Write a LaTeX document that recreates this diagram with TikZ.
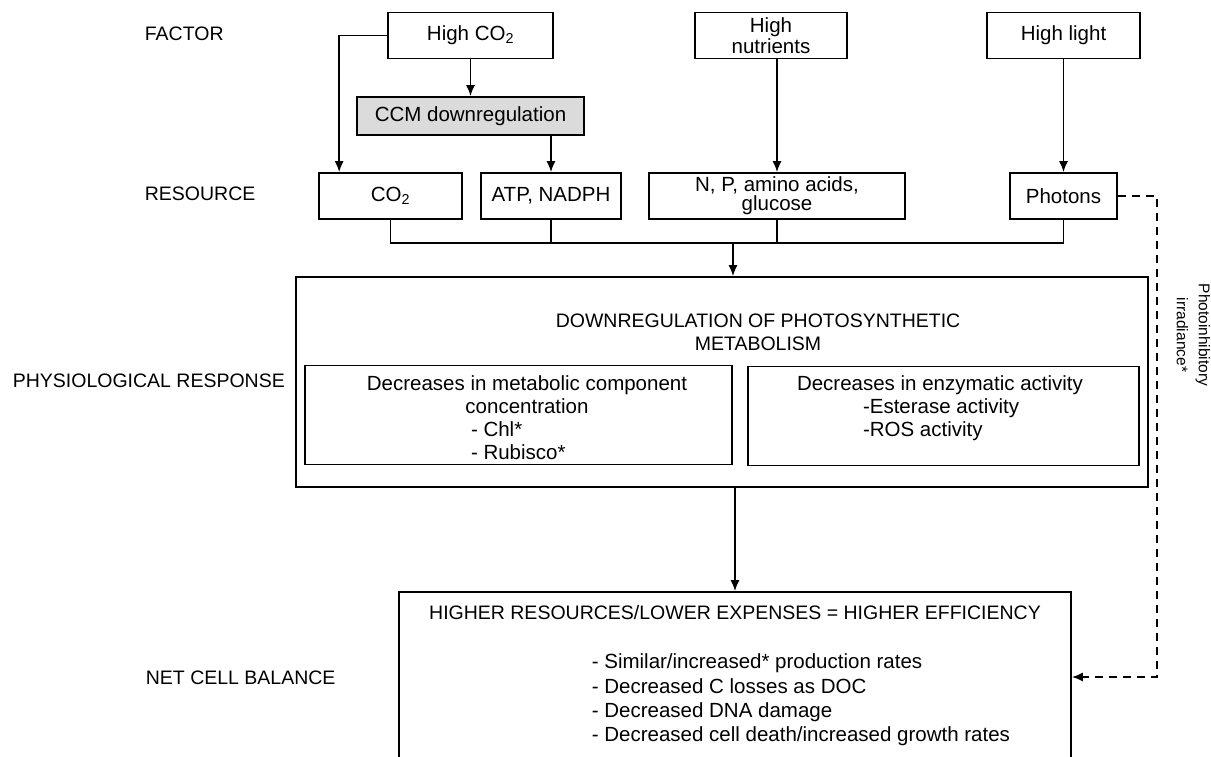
\documentclass[tikz,border=0pt]{standalone}
\usepackage{fontspec}
\setmainfont{Liberation Sans}
\usetikzlibrary{calc}
\usetikzlibrary{arrows.meta}

\begin{document}
\begin{tikzpicture}[x=1pt,y=-1pt,>={Latex[length=11pt,width=9pt]},line width=1.7pt,
  every node/.style={font=\fontsize{20.5}{23}\selectfont,inner sep=0pt},
  caps/.style={font=\fontsize{19.5}{23}\selectfont},
  box/.style={draw,minimum height=46pt,align=center},
  levellabel/.style={caps,anchor=base west},
  dashline/.style={dash pattern=on 8pt off 6pt}]
\useasboundingbox (0,0) rectangle (1211,756);

\node[name=lab_factor, levellabel] at (144,40) {FACTOR};
\node[name=lab_resource, levellabel] at (144,200) {RESOURCE};
\node[name=lab_physio, levellabel] at (12,387) {PHYSIOLOGICAL RESPONSE};
\node[name=lab_net, levellabel] at (145,684) {NET CELL BALANCE};

\node[name=high_co2, box, minimum width=165pt] at (470.5,35.5) {High CO\textsubscript{2}};
\node[name=high_nut, box, minimum width=152pt, font=\fontsize{20.5}{21}\selectfont] at (771,35.5) {High\\nutrients};
\node[name=high_light, box, minimum width=153pt] at (1063.5,35.5) {High light};
\node[name=ccm, box, minimum width=227pt, minimum height=38pt, fill=black!14] at (470.5,116) {CCM downregulation};

\node[name=co2, box, minimum width=143pt] at (390.5,196) {CO\textsubscript{2}};
\node[name=atp, box, minimum width=140pt] at (551,196) {ATP, NADPH};
\node[name=nut, box, minimum width=256pt, font=\fontsize{20.5}{19}\selectfont] at (777,196) {N, P, amino acids,\\glucose};
\node[name=photons, box, minimum width=107pt] at (1063.5,196) {Photons};

\node[name=main, draw, minimum width=852pt, minimum height=210pt] at (722,382) {};
\node[name=main_title, caps, anchor=north, align=center] at (758,313) {DOWNREGULATION OF PHOTOSYNTHETIC\\METABOLISM};
\node[name=comp, draw, minimum width=427pt, minimum height=99pt] at (518.5,415) {};
\node[name=comp_txt, anchor=north, align=center] at (527,375) {Decreases in metabolic component\\concentration\\\makebox[112pt][l]{- Chl*}\\\makebox[112pt][l]{- Rubisco*}};
\node[name=enz, draw, minimum width=391pt, minimum height=99pt] at (943.5,416) {};
\node[name=enz_txt, anchor=north, align=center] at (940,375) {Decreases in enzymatic activity\\\makebox[154pt][l]{-Esterase activity}\\\makebox[154pt][l]{-ROS activity}};

\node[name=balance, draw, minimum width=672pt, minimum height=180pt] at (735,682) {};
\node[name=balance_title, caps, anchor=base] at (735,619) {HIGHER RESOURCES/LOWER EXPENSES = HIGHER EFFICIENCY};
\node[name=balance_list, anchor=north west, align=left, font=\fontsize{20.5}{24.4}\selectfont] at (591,653) {- Similar/increased* production rates\\- Decreased C losses as DOC\\- Decreased DNA damage\\- Decreased cell death/increased growth rates};

\node[name=photoinhib, rotate=-90, align=center, font=\fontsize{15.5}{22}\selectfont] at (1193.5,335) {Photoinhibitory\\irradiance*};

\coordinate (bus) at (733,243);
\coordinate (dash_turn) at (1157,677);

\draw[->] (high_co2.west) -| ($(co2.north west)+(21,0)$);
\draw[->] (high_co2.south) -- (ccm.north);
\draw[->] (atp.north |- ccm.south) -- (atp.north);
\draw[->] (nut.north |- high_nut.south) -- (nut.north);
\draw[->] (high_light.south) -- (photons.north);

\draw (co2.south) |- (photons.south |- bus) -- (photons.south);
\draw (atp.south) -- (atp.south |- bus);
\draw (nut.south) -- (nut.south |- bus);
\draw[->] (bus) -- (bus |- main.north);
\draw[->] (balance.north |- main.south) -- (balance.north);
\draw[dashline,->] (photons.east) -| (dash_turn) -- (balance.east |- dash_turn);

\end{tikzpicture}
\end{document}
